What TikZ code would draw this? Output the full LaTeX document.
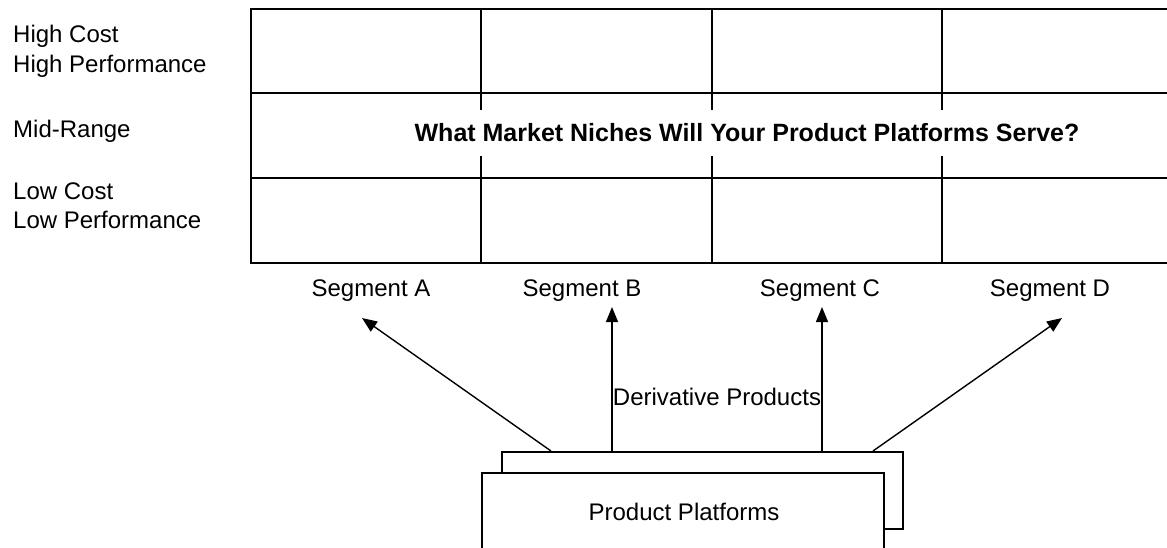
\documentclass[tikz,border=0pt]{standalone}
\usepackage{fontspec}
\setmainfont{Liberation Sans}
\usetikzlibrary{arrows.meta,calc}
\begin{document}
\begin{tikzpicture}[x=1pt,y=-1pt,
  gridline/.style={line width=1.5pt},
  lbl/.style={font=\fontsize{24}{28}\selectfont, inner sep=0pt, anchor=base west},
  seglbl/.style={font=\fontsize{24}{28}\selectfont, inner sep=0pt, anchor=base},
  platbox/.style={draw, line width=1.5pt, fill=white, inner sep=0pt},
  arr/.style={line width=1.4pt, -{Triangle[length=15pt,width=12pt]}}]
\useasboundingbox (0,0) rectangle (1167,547);
\clip (0,0) rectangle (1167,547);

% market grid: three tiers by four segments
\draw[gridline] (1175,9) -- (251,9) -- (251,263) -- (1175,263);
\draw[gridline] (251,93) -- (1175,93);
\draw[gridline] (251,178) -- (1175,178);
\foreach \x in {481,712,942} \draw[gridline] (\x,9) -- (\x,263);

% headline across the middle tier
\node[fill=white, inner xsep=6pt, inner ysep=0pt, minimum height=46pt,
      font=\bfseries\fontsize{25}{28}\selectfont] (title) at (747,133)
      {What Market Niches Will Your Product Platforms Serve?};

% tier labels
\node[lbl] (hc) at (13,42) {High Cost};
\node[lbl] (hp) at (13,72) {High Performance};
\node[lbl] (mid) at (13,137) {Mid-Range};
\node[lbl] (lc) at (13,199) {Low Cost};
\node[lbl] (lp) at (13,228) {Low Performance};

% segment labels
\node[seglbl] (segA) at (371,296) {Segment A};
\node[seglbl] (segB) at (582,296) {Segment B};
\node[seglbl] (segC) at (820,296) {Segment C};
\node[seglbl] (segD) at (1050,296) {Segment D};

% stacked platform boxes
\node[platbox, minimum width=401pt, minimum height=77pt, anchor=north west] (back) at (501,451) {};
\node[platbox, minimum width=402pt, minimum height=100pt, anchor=north west] (front) at (481,472) {};
\node[seglbl] (plat) at (684,520) {Product Platforms};

% arrow tips below the segment labels
\coordinate (tipA) at (362,318);
\coordinate (tipB) at (612,307);
\coordinate (tipC) at (822,307);
\coordinate (tipD) at (1062,318);

\draw[arr] ($(back.north west)+(50,0)$) -- (tipA);
\draw[arr] ($(back.north west)+(111,0)$) -- (tipB);
\draw[arr] ($(back.north west)+(321,0)$) -- (tipC);
\draw[arr] ($(back.north west)+(372,0)$) -- (tipD);

\node[seglbl] (deriv) at (717,405) {Derivative Products};
\end{tikzpicture}
\end{document}
